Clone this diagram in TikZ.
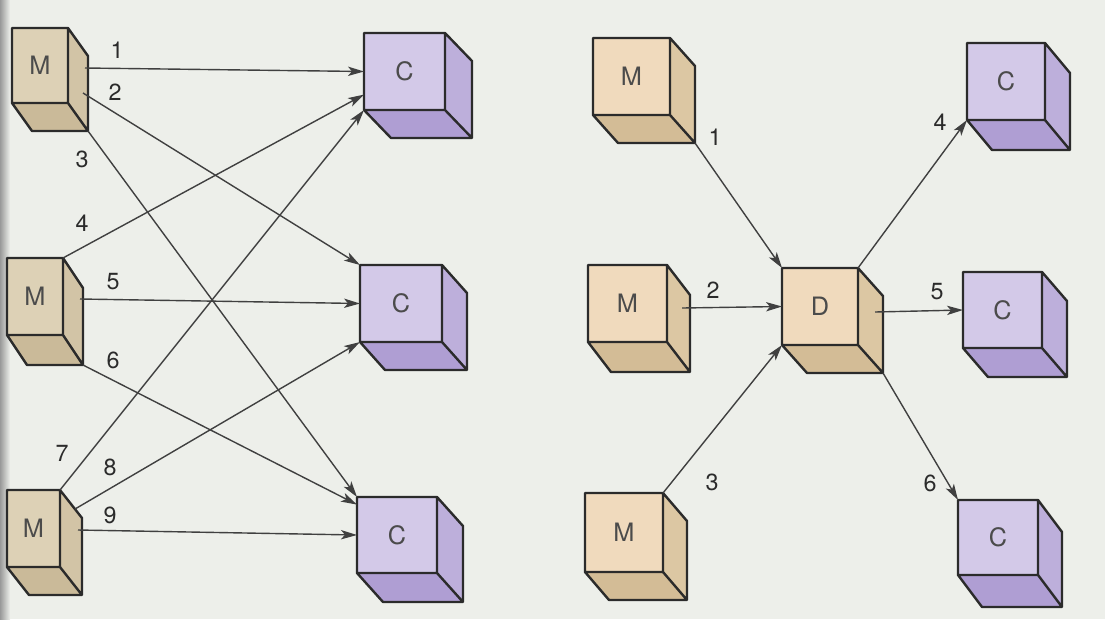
\documentclass[tikz,border=0pt]{standalone}
\usepackage{fontspec}
\setmainfont{TeX Gyre Heros}
\usetikzlibrary{calc,arrows.meta}

\definecolor{paper}{HTML}{EDEFEA}
\definecolor{ink}{HTML}{2B2B2B}
% tan cubes (right column)
\definecolor{frontM}{HTML}{F0DABD}
\definecolor{sideM}{HTML}{DCC7A3}
\definecolor{botM}{HTML}{D3BC96}
% tan cubes near the gutter, a little greyer
\definecolor{frontL}{HTML}{DDD1B6}
\definecolor{sideL}{HTML}{D2C4A6}
\definecolor{botL}{HTML}{CABA99}
% lavender cubes
\definecolor{frontC}{HTML}{D3C9E8}
\definecolor{sideC}{HTML}{BDAFDB}
\definecolor{botC}{HTML}{AF9ED3}

\tikzset{
  cubeedge/.style={draw=ink, line width=1.8pt, line join=round},
  cubetext/.style={text=ink!85, font=\fontsize{19}{19}\selectfont, inner sep=0pt},
  numlabel/.style={text=ink, font=\fontsize{17.5}{17.5}\selectfont, inner sep=0pt},
  arr/.style={draw=ink!90, line width=1.05pt, -{Stealth[length=12pt,width=7pt,inset=3pt]}},
}

% \cube{name}{x}{y}{width}{height}{depth x}{depth y}{palette}{label}
\newcommand\cube[9]{%
  \coordinate (#1-tl) at (#2,#3);
  \coordinate (#1-tr) at (#2+#4,#3);
  \coordinate (#1-br) at (#2+#4,#3+#5);
  \coordinate (#1-bl) at (#2,#3+#5);
  \coordinate (#1-trb) at (#2+#4+#6,#3+#7);
  \coordinate (#1-brb) at (#2+#4+#6,#3+#5+#7);
  \coordinate (#1-blb) at (#2+#6,#3+#5+#7);
  \fill[front#8] (#1-tl) rectangle (#1-br);
  \fill[side#8] (#1-tr) -- (#1-trb) -- (#1-brb) -- (#1-br) -- cycle;
  \fill[bot#8] (#1-bl) -- (#1-br) -- (#1-brb) -- (#1-blb) -- cycle;
  \draw[cubeedge] (#1-tl) -- (#1-tr) -- (#1-trb) -- (#1-brb) -- (#1-blb) -- (#1-bl) -- cycle
     (#1-tr) -- (#1-br) -- (#1-bl) (#1-br) -- (#1-brb);
  \node[cubetext] (#1) at ($(#1-tl)!0.5!(#1-br)$) {#9};
}

\begin{document}
\begin{tikzpicture}[x=0.75pt, y=-0.75pt]
  \useasboundingbox (0,0) rectangle (1105,619);
  \fill[paper] (0,0) rectangle (1105,619);
  \shade[left color=black!40, right color=paper] (0,0) rectangle (10,619);

  % ---- many-to-many: every M linked to every C ----
  \cube{mA}{12}{28}{56}{75}{20}{28}{L}{M}
  \cube{mB}{7}{258}{56}{77}{20}{30}{L}{M}
  \cube{mC}{7}{490}{53}{77}{22}{28}{L}{M}
  \cube{cA}{364}{33}{81}{77}{27}{28}{C}{C}
  \cube{cB}{360}{265}{82}{77}{25}{28}{C}{C}
  \cube{cC}{357}{497}{80}{76}{26}{29}{C}{C}

  \coordinate (s1) at (85,68);
  \coordinate (s2) at (83,93);
  \coordinate (s5) at (80,299);
  \coordinate (s8) at ($(mC-tr)!0.68!(mC-trb)$);
  \coordinate (s9) at (78,530);

  \draw[arr] (s1) -- ($(cA-tl)!0.5!(cA-bl)$);
  \draw[arr] (s2) -- (cB-tl);
  \draw[arr] (mA-brb) -- (cC-tl);
  \draw[arr] (mB-tr) -- ($(cA-tl)!0.8!(cA-bl)$);
  \draw[arr] (s5) -- ($(cB-tl)!0.5!(cB-bl)$);
  \draw[arr] (mB-brb) -- ($(cC-tl)!0.1!(cC-bl)$);
  \draw[arr] (mC-tr) -- (cA-bl);
  \draw[arr] (s8) -- (cB-bl);
  \draw[arr] (s9) -- ($(cC-tl)!0.5!(cC-bl)$);

  \node[numlabel] (l1) at (117,50) {1};
  \node[numlabel] (l2) at (115,92) {2};
  \node[numlabel] (l3) at (82,159) {3};
  \node[numlabel] (l4) at (82,223) {4};
  \node[numlabel] (l5) at (113,282) {5};
  \node[numlabel] (l6) at (113,360) {6};
  \node[numlabel] (l7) at (62,453) {7};
  \node[numlabel] (l8) at (110,467) {8};
  \node[numlabel] (l9) at (110,515) {9};

  % ---- all traffic routed through D ----
  \cube{mD}{593}{38}{77}{77}{25}{28}{M}{M}
  \cube{mE}{588}{265}{79}{77}{23}{30}{M}{M}
  \cube{mF}{585}{493}{78}{79}{24}{28}{M}{M}
  \cube{dA}{782}{268}{76}{77}{25}{28}{M}{D}
  \cube{cD}{967}{43}{78}{77}{25}{30}{C}{C}
  \cube{cE}{963}{272}{79}{76}{25}{29}{C}{C}
  \cube{cF}{958}{500}{80}{75}{24}{32}{C}{C}

  \coordinate (t2) at (682,308);
  \coordinate (t5) at (875,312);

  \draw[arr] (mD-brb) -- (dA-tl);
  \draw[arr] (t2) -- ($(dA-tl)!0.5!(dA-bl)$);
  \draw[arr] (mF-tr) -- (dA-bl);
  \draw[arr] (dA-tr) -- (cD-bl);
  \draw[arr] (t5) -- ($(cE-tl)!0.5!(cE-bl)$);
  \draw[arr] (dA-brb) -- (cF-tl);

  \node[numlabel] (r1) at (715,137) {1};
  \node[numlabel] (r2) at (713,290) {2};
  \node[numlabel] (r3) at (712,482) {3};
  \node[numlabel] (r4) at (940,122) {4};
  \node[numlabel] (r5) at (937,292) {5};
  \node[numlabel] (r6) at (930,483) {6};
\end{tikzpicture}
\end{document}
